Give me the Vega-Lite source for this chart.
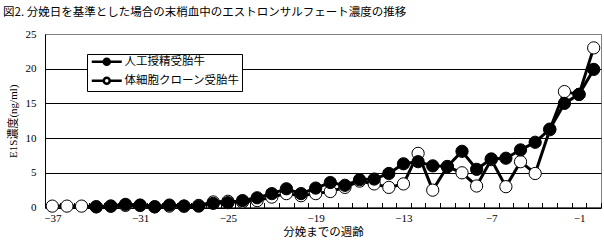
{
  "$schema": "https://vega.github.io/schema/vega-lite/v6.json",
  "width": 556,
  "height": 173.5,
  "autosize": {"type": "none"},
  "padding": {"left": 45, "top": 34, "right": 3, "bottom": 44.5},
  "background": "white",
  "title": {
    "text": "図2. 分娩日を基準とした場合の末梢血中のエストロンサルフェート濃度の推移",
    "anchor": "start", "frame": "group", "dx": -42, "offset": 10,
    "font": "Noto Sans CJK JP", "fontSize": 11.5, "fontWeight": "normal", "color": "black"
  },
  "config": {"view": {"stroke": "#808080"}},
  "data": {"values": [
    {"week": -37, "series": "体細胞クローン受胎牛", "value": 0.2},
    {"week": -36, "series": "体細胞クローン受胎牛", "value": 0.2},
    {"week": -35, "series": "体細胞クローン受胎牛", "value": 0.2},
    {"week": -34, "series": "体細胞クローン受胎牛", "value": 0.1},
    {"week": -33, "series": "体細胞クローン受胎牛", "value": 0.2},
    {"week": -32, "series": "体細胞クローン受胎牛", "value": 0.3},
    {"week": -31, "series": "体細胞クローン受胎牛", "value": 0.3},
    {"week": -30, "series": "体細胞クローン受胎牛", "value": 0.1},
    {"week": -29, "series": "体細胞クローン受胎牛", "value": 0.2},
    {"week": -28, "series": "体細胞クローン受胎牛", "value": 0.2},
    {"week": -27, "series": "体細胞クローン受胎牛", "value": 0.3},
    {"week": -26, "series": "体細胞クローン受胎牛", "value": 0.8},
    {"week": -25, "series": "体細胞クローン受胎牛", "value": 0.9},
    {"week": -24, "series": "体細胞クローン受胎牛", "value": 0.8},
    {"week": -23, "series": "体細胞クローン受胎牛", "value": 1.0},
    {"week": -22, "series": "体細胞クローン受胎牛", "value": 1.5},
    {"week": -21, "series": "体細胞クローン受胎牛", "value": 2.0},
    {"week": -20, "series": "体細胞クローン受胎牛", "value": 1.7},
    {"week": -19, "series": "体細胞クローン受胎牛", "value": 2.0},
    {"week": -18, "series": "体細胞クローン受胎牛", "value": 2.3},
    {"week": -17, "series": "体細胞クローン受胎牛", "value": 2.9},
    {"week": -16, "series": "体細胞クローン受胎牛", "value": 3.8},
    {"week": -15, "series": "体細胞クローン受胎牛", "value": 3.4},
    {"week": -14, "series": "体細胞クローン受胎牛", "value": 2.9},
    {"week": -13, "series": "体細胞クローン受胎牛", "value": 3.4},
    {"week": -12, "series": "体細胞クローン受胎牛", "value": 7.8},
    {"week": -11, "series": "体細胞クローン受胎牛", "value": 2.5},
    {"week": -10, "series": "体細胞クローン受胎牛", "value": 5.9},
    {"week": -9, "series": "体細胞クローン受胎牛", "value": 5.0},
    {"week": -8, "series": "体細胞クローン受胎牛", "value": 3.1},
    {"week": -7, "series": "体細胞クローン受胎牛", "value": 6.9},
    {"week": -6, "series": "体細胞クローン受胎牛", "value": 3.0},
    {"week": -5, "series": "体細胞クローン受胎牛", "value": 6.6},
    {"week": -4, "series": "体細胞クローン受胎牛", "value": 4.9},
    {"week": -3, "series": "体細胞クローン受胎牛", "value": 11.2},
    {"week": -2, "series": "体細胞クローン受胎牛", "value": 16.7},
    {"week": -1, "series": "体細胞クローン受胎牛", "value": 16.3},
    {"week": 0, "series": "体細胞クローン受胎牛", "value": 23.0},
    {"week": -34, "series": "人工授精受胎牛", "value": 0.1},
    {"week": -33, "series": "人工授精受胎牛", "value": 0.2},
    {"week": -32, "series": "人工授精受胎牛", "value": 0.45},
    {"week": -31, "series": "人工授精受胎牛", "value": 0.35},
    {"week": -30, "series": "人工授精受胎牛", "value": 0.1},
    {"week": -29, "series": "人工授精受胎牛", "value": 0.35},
    {"week": -28, "series": "人工授精受胎牛", "value": 0.2},
    {"week": -27, "series": "人工授精受胎牛", "value": 0.2},
    {"week": -26, "series": "人工授精受胎牛", "value": 0.6},
    {"week": -25, "series": "人工授精受胎牛", "value": 0.7},
    {"week": -24, "series": "人工授精受胎牛", "value": 1.0},
    {"week": -23, "series": "人工授精受胎牛", "value": 1.4},
    {"week": -22, "series": "人工授精受胎牛", "value": 2.0},
    {"week": -21, "series": "人工授精受胎牛", "value": 2.7},
    {"week": -20, "series": "人工授精受胎牛", "value": 2.0},
    {"week": -19, "series": "人工授精受胎牛", "value": 2.8},
    {"week": -18, "series": "人工授精受胎牛", "value": 3.6},
    {"week": -17, "series": "人工授精受胎牛", "value": 3.2},
    {"week": -16, "series": "人工授精受胎牛", "value": 4.0},
    {"week": -15, "series": "人工授精受胎牛", "value": 4.1},
    {"week": -14, "series": "人工授精受胎牛", "value": 4.9},
    {"week": -13, "series": "人工授精受胎牛", "value": 6.3},
    {"week": -12, "series": "人工授精受胎牛", "value": 6.6},
    {"week": -11, "series": "人工授精受胎牛", "value": 6.0},
    {"week": -10, "series": "人工授精受胎牛", "value": 5.9},
    {"week": -9, "series": "人工授精受胎牛", "value": 8.1},
    {"week": -8, "series": "人工授精受胎牛", "value": 5.5},
    {"week": -7, "series": "人工授精受胎牛", "value": 7.0},
    {"week": -6, "series": "人工授精受胎牛", "value": 7.1},
    {"week": -5, "series": "人工授精受胎牛", "value": 8.3},
    {"week": -4, "series": "人工授精受胎牛", "value": 9.4},
    {"week": -3, "series": "人工授精受胎牛", "value": 11.3},
    {"week": -2, "series": "人工授精受胎牛", "value": 15.0},
    {"week": -1, "series": "人工授精受胎牛", "value": 16.3},
    {"week": 0, "series": "人工授精受胎牛", "value": 19.9}
  ]},
  "encoding": {
    "x": {
      "field": "week", "type": "quantitative",
      "scale": {"domain": [-37.5, 0.5], "nice": false, "zero": false},
      "axis": {
        "values": [-37.5,-36.5,-35.5,-34.5,-33.5,-32.5,-31.5,-30.5,-29.5,-28.5,-27.5,-26.5,-25.5,-24.5,-23.5,-22.5,-21.5,-20.5,-19.5,-18.5,-17.5,-16.5,-15.5,-14.5,-13.5,-12.5,-11.5,-10.5,-9.5,-8.5,-7.5,-6.5,-5.5,-4.5,-3.5,-2.5,-1.5,-0.5,0.5],
        "labelExpr": "((datum.value + 37.5) % 6 == 0) ? '−' + abs(datum.value + 0.5) : ''",
        "labelOffset": 7.3,
        "labelOverlap": false, "labelFlush": false, "labelBound": false,
        "ticks": true, "tickSize": -5, "tickColor": "black", "tickWidth": 1,
        "domainColor": "black", "domainWidth": 1, "grid": false,
        "labelFont": "Liberation Serif", "labelFontSize": 11, "labelColor": "black", "labelPadding": 10,
        "title": "分娩までの週齢", "titleFont": "Noto Sans CJK JP", "titleFontSize": 11.5,
        "titleFontWeight": "normal", "titleColor": "black", "titlePadding": 3
      }
    },
    "y": {
      "field": "value", "type": "quantitative",
      "scale": {"domain": [0, 25], "nice": false},
      "axis": {
        "values": [0, 5, 10, 15, 20, 25],
        "grid": true,
        "gridColor": {"condition": {"test": "datum.value == 25", "value": "#808080"}, "value": "black"},
        "gridWidth": 1,
        "ticks": false, "domainColor": "black", "domainWidth": 1,
        "labelFont": "Liberation Serif", "labelFontSize": 11, "labelColor": "black", "labelPadding": 9,
        "title": "E1S濃度(ng/ml)", "titleFont": "Liberation Serif, Noto Sans CJK JP", "titleFontSize": 11,
        "titleFontWeight": "normal", "titleColor": "black", "titlePadding": 7
      }
    }
  },
  "layer": [
    {
      "transform": [{"filter": "datum.series === '体細胞クローン受胎牛'"}],
      "mark": {"type": "line", "stroke": "black", "strokeWidth": 3}
    },
    {
      "transform": [{"filter": "datum.series === '体細胞クローン受胎牛'"}],
      "mark": {"type": "point", "shape": "circle", "filled": true, "stroke": "black", "strokeWidth": 1, "size": 150, "opacity": 1},
      "encoding": {
        "fill": {
          "field": "series", "type": "nominal",
          "scale": {"domain": ["人工授精受胎牛", "体細胞クローン受胎牛"], "range": ["black", "white"]},
          "legend": {
            "orient": "none", "legendX": 42, "legendY": 20, "title": null,
            "fillColor": "white", "strokeColor": "black", "padding": 2,
            "symbolType": "M-5,0H-1M1,0H5M-1,0A1,1,0,1,0,1,0A1,1,0,1,0,-1,0Z",
            "symbolSize": 36, "symbolOffset": 12, "symbolStrokeColor": "black", "symbolStrokeWidth": 2.5,
            "labelFont": "Noto Sans CJK JP", "labelFontSize": 11.5, "labelColor": "black",
            "labelOffset": 12, "rowPadding": 2
          }
        }
      }
    },
    {
      "transform": [{"filter": "datum.series === '人工授精受胎牛'"}],
      "mark": {"type": "line", "stroke": "black", "strokeWidth": 3}
    },
    {
      "transform": [{"filter": "datum.series === '人工授精受胎牛'"}],
      "mark": {"type": "point", "shape": "circle", "filled": true, "stroke": "black", "strokeWidth": 1, "size": 150, "opacity": 1},
      "encoding": {
        "fill": {"field": "series", "type": "nominal"}
      }
    }
  ]
}
